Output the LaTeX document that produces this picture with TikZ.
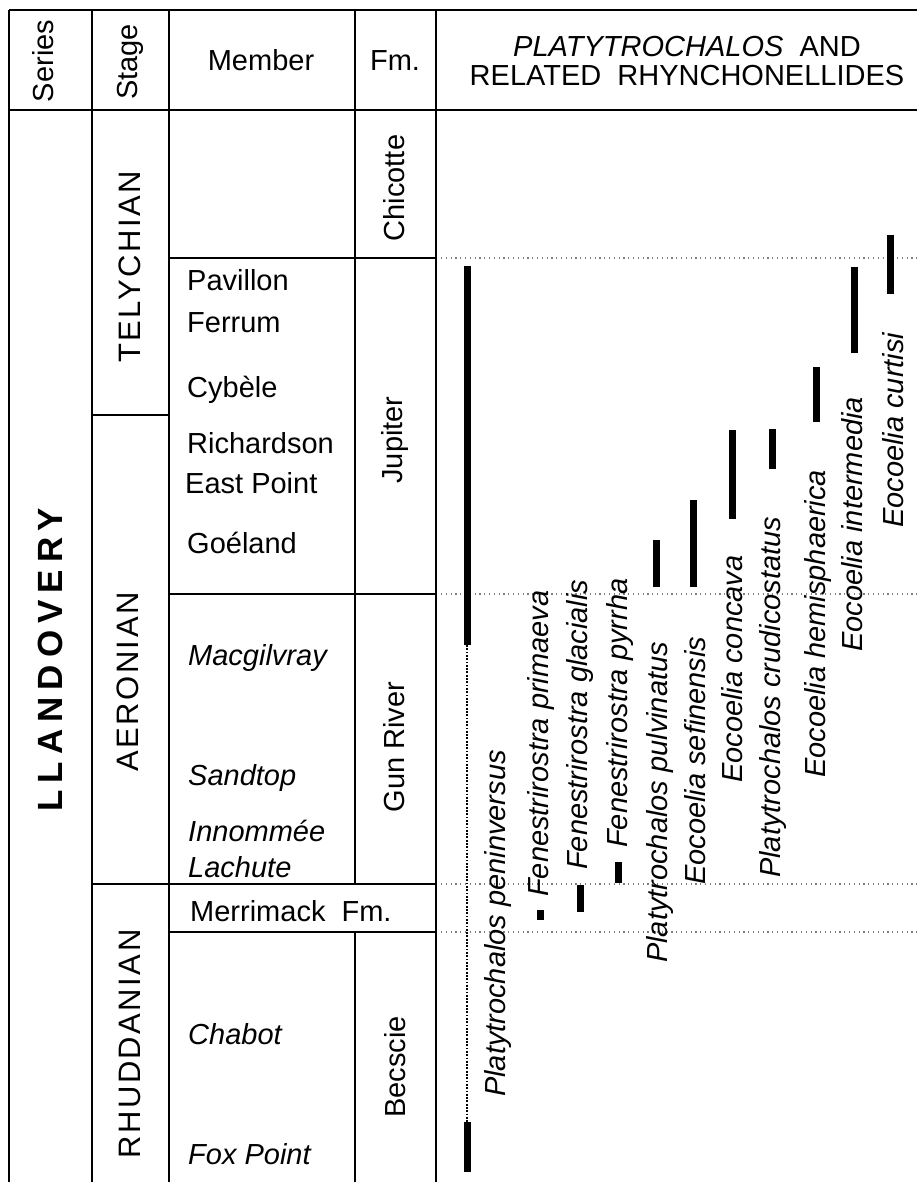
\documentclass[tikz,border=0pt]{standalone}
\usepackage{fontspec}
\setmainfont{Liberation Sans}

\begin{document}
\begin{tikzpicture}[x=1pt,y=-1pt,
	gridline/.style={line width=1.9pt},
	guide/.style={gray,line width=1.4pt,dash pattern=on 1.2pt off 3.6pt},
	rangebar/.style={line width=7pt},
	gapline/.style={line width=2.8pt,dash pattern=on 1.8pt off 1.5pt},
	every node/.style={inner sep=0pt,font=\fontsize{29}{34}\selectfont},
	member/.style={anchor=base west},
	fmname/.style={rotate=90,anchor=base},
	stagename/.style={rotate=90,anchor=base,font=\fontsize{31}{36}\selectfont\addfontfeature{LetterSpace=8}},
	taxon/.style={rotate=90,anchor=base west,font=\fontsize{29}{34}\selectfont\itshape}]
	\path[fill=white,use as bounding box] (0,0) rectangle (917,1182);

	\begin{scope} % Table frame
		\draw[gridline] (9,10) -- (917,10);
		\draw[gridline] (9,110) -- (917,110);
		\draw[gridline] (9,10) -- (9,1182);
		\draw[gridline] (92,10) -- (92,1182);
		\draw[gridline] (169,10) -- (169,1182);
		\draw[gridline] (355,10) -- (355,884) (355,932) -- (355,1182);
		\draw[gridline] (436,10) -- (436,1182);
		\draw[gridline] (169,258) -- (436,258);
		\draw[gridline] (92,415) -- (169,415);
		\draw[gridline] (169,594) -- (436,594);
		\draw[gridline] (92,884) -- (436,884);
		\draw[gridline] (169,932) -- (436,932);
	\end{scope}

	% dotted guides across the ranges
	\foreach \y in {258,594,884,932}
		\draw[guide] (441,\y) -- (917,\y);

	\begin{scope} % Header
		\node[rotate=90,anchor=base] (series) at (53,61) {Series};
		\node[rotate=90,anchor=base] (stage) at (137,62) {Stage};
		\node[anchor=base] (member) at (261,70.7) {Member};
		\node[anchor=base] (fm) at (395,70.7) {Fm.};
		\node[anchor=base] (title1) at (687,56.7) {\textit{PLATYTROCHALOS}\ \ AND};
		\node[anchor=base] (title2) at (687,86) {RELATED\ \ RHYNCHONELLIDES};
	\end{scope}

	\begin{scope} % Series and stages
		\node[rotate=90,anchor=base,font=\fontsize{35}{40}\selectfont\bfseries\addfontfeature{LetterSpace=20}] (llandovery) at (62,660) {LLANDOVERY};
		\node[stagename] (telychian) at (140,267) {TELYCHIAN};
		\node[stagename] (aeronian) at (138,682) {AERONIAN};
		\node[stagename] (rhuddanian) at (140,1044) {RHUDDANIAN};
	\end{scope}

	\begin{scope} % Members
		\node[member] (pavillon) at (187,290) {Pavillon};
		\node[member] (ferrum) at (187,332) {Ferrum};
		\node[member] (cybele) at (187,397) {Cybèle};
		\node[member] (richardson) at (187,453) {Richardson};
		\node[member] (eastpoint) at (185,493) {East Point};
		\node[member] (goeland) at (187,553) {Goéland};
		\node[member] (macgilvray) at (188,665) {\itshape Macgilvray};
		\node[member] (sandtop) at (188,785) {\itshape Sandtop};
		\node[member] (innommee) at (188,841) {\itshape Innommée};
		\node[member] (lachute) at (188,877) {\itshape Lachute};
		\node[member] (merrimack) at (190,921) {Merrimack\ \ Fm.};
		\node[member] (chabot) at (188,1044) {\itshape Chabot};
		\node[member] (foxpoint) at (188,1164) {\itshape Fox Point};
	\end{scope}

	\begin{scope} % Formations
		\node[fmname] (chicotte) at (404,188) {Chicotte};
		\node[fmname] (jupiter) at (402,440) {Jupiter};
		\node[fmname] (gunriver) at (404,747) {Gun River};
		\node[fmname] (becscie) at (405,1067) {Becscie};
	\end{scope}

	\begin{scope} % Ranges
		\draw[rangebar] (467,266) -- (467,645);
		\draw[gapline] (467,645) -- (467,1122);
		\draw[rangebar] (467,1122) -- (467,1172);
		\draw[rangebar] (540,910) -- (540,920);
		\draw[rangebar] (580,885) -- (580,912);
		\draw[rangebar] (618,862) -- (618,883);
		\draw[rangebar] (656,540) -- (656,587);
		\draw[rangebar] (693,500) -- (693,587);
		\draw[rangebar] (732,430) -- (732,519);
		\draw[rangebar] (772,429) -- (772,469);
		\draw[rangebar] (816,367) -- (816,422);
		\draw[rangebar] (854,267) -- (854,353);
		\draw[rangebar] (890,235) -- (890,294);
	\end{scope}

	\begin{scope} % Taxa
		\node[taxon] (peninversus) at (505,1097) {Platytrochalos peninversus};
		\node[taxon] (primaeva) at (548,897) {Fenestrirostra primaeva};
		\node[taxon] (glacialis) at (587,870) {Fenestrirostra glacialis};
		\node[taxon] (pyrrha) at (627,848) {Fenestrirostra pyrrha};
		\node[taxon] (pulvinatus) at (667,963) {Platytrochalos pulvinatus};
		\node[taxon] (sefinensis) at (705,885) {Eocoelia sefinensis};
		\node[taxon] (concava) at (742,783) {Eocoelia concava};
		\node[taxon] (crudicostatus) at (780,878) {Platytrochalos crudicostatus};
		\node[taxon] (hemisphaerica) at (825,778) {Eocoelia hemisphaerica};
		\node[taxon] (intermedia) at (862,652) {Eocoelia intermedia};
		\node[taxon] (curtisi) at (903,528) {Eocoelia curtisi};
	\end{scope}
\end{tikzpicture}
\end{document}
